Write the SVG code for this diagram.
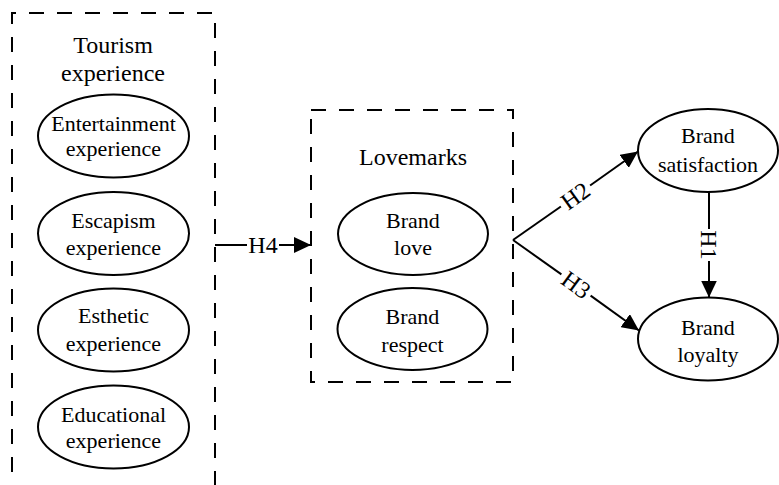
<svg xmlns="http://www.w3.org/2000/svg" width="779" height="485" viewBox="0 0 779 485">
  <defs>
    <marker id="arrow" markerUnits="userSpaceOnUse" markerWidth="17" markerHeight="16" refX="17" refY="8" orient="auto">
      <path d="M0,0 L17,8 L0,16 z" fill="#000"/>
    </marker>
    <style>
      .box { fill: none; stroke: #000; stroke-width: 2; stroke-dasharray: 15 13; }
      .node ellipse { fill: #fff; stroke: #000; stroke-width: 2; }
      text { font-family: "Liberation Serif", "Times New Roman", serif; fill: #000; text-anchor: middle; }
      .lbl { font-size: 22px; }
      .title { font-size: 24px; }
      .hyp { font-size: 24px; }
      .edge { fill: none; stroke: #000; stroke-width: 2; }
    </style>
  </defs>
  <rect width="779" height="485" fill="#fff"/>

  <!-- Tourism experience group (open at the bottom) -->
  <g id="tourism-experience">
    <path class="box" d="M12,500 L12,13 L215,13 L215,500"/>
    <text class="title" x="113" y="53">Tourism</text>
    <text class="title" x="113" y="81">experience</text>
  </g>
  <g id="entertainment" class="node">
    <ellipse cx="113.5" cy="136" rx="75.5" ry="41.5"/>
    <text class="lbl" x="113.5" y="131">Entertainment</text>
    <text class="lbl" x="113.5" y="156">experience</text>
  </g>
  <g id="escapism" class="node">
    <ellipse cx="113.5" cy="233.5" rx="75.5" ry="41.5"/>
    <text class="lbl" x="113.5" y="228">Escapism</text>
    <text class="lbl" x="113.5" y="255">experience</text>
  </g>
  <g id="esthetic" class="node">
    <ellipse cx="113.5" cy="330" rx="75.5" ry="41.5"/>
    <text class="lbl" x="113.5" y="323">Esthetic</text>
    <text class="lbl" x="113.5" y="351">experience</text>
  </g>
  <g id="educational" class="node">
    <ellipse cx="113.5" cy="427" rx="75.5" ry="41.5"/>
    <text class="lbl" x="113.5" y="422">Educational</text>
    <text class="lbl" x="113.5" y="448">experience</text>
  </g>

  <!-- Lovemarks group -->
  <g id="lovemarks">
    <rect class="box" x="311" y="110" width="202" height="272"/>
    <text class="title" x="413" y="165">Lovemarks</text>
  </g>
  <g id="brand-love" class="node">
    <ellipse cx="413" cy="234" rx="75" ry="41"/>
    <text class="lbl" x="413" y="228">Brand</text>
    <text class="lbl" x="413" y="255">love</text>
  </g>
  <g id="brand-respect" class="node">
    <ellipse cx="412.5" cy="329" rx="75" ry="41"/>
    <text class="lbl" x="412.5" y="324">Brand</text>
    <text class="lbl" x="412.5" y="352">respect</text>
  </g>

  <!-- Outcomes -->
  <g id="brand-satisfaction" class="node">
    <ellipse cx="708" cy="150.5" rx="70" ry="41.5"/>
    <text class="lbl" x="708" y="143">Brand</text>
    <text class="lbl" x="708" y="172">satisfaction</text>
  </g>
  <g id="brand-loyalty" class="node">
    <ellipse cx="708" cy="339" rx="70" ry="41.5"/>
    <text class="lbl" x="708" y="335">Brand</text>
    <text class="lbl" x="708" y="362">loyalty</text>
  </g>

  <!-- Hypothesis paths -->
  <g id="connectors">
    <!-- H4 -->
    <line class="edge" x1="215" y1="245" x2="247" y2="245"/>
    <line class="edge" x1="279" y1="245" x2="311" y2="245" marker-end="url(#arrow)"/>
    <text class="hyp" x="263" y="253">H4</text>

    <!-- H2 -->
    <line class="edge" x1="513" y1="240" x2="560.9" y2="206.5"/>
    <line class="edge" x1="590.1" y1="185.5" x2="638" y2="151.5" marker-end="url(#arrow)"/>
    <text class="hyp" transform="translate(575.5,196) rotate(-35.6)" x="0" y="8">H2</text>

    <!-- H3 -->
    <line class="edge" x1="513" y1="240" x2="561.4" y2="274.4"/>
    <line class="edge" x1="590.6" y1="295.6" x2="639" y2="330.5" marker-end="url(#arrow)"/>
    <text class="hyp" transform="translate(576,285) rotate(36)" x="0" y="8">H3</text>

    <!-- H1 -->
    <line class="edge" x1="709" y1="192" x2="709" y2="229"/>
    <line class="edge" x1="709" y1="261" x2="709" y2="297.5" marker-end="url(#arrow)"/>
    <text class="hyp" transform="translate(709,245) rotate(90)" x="0" y="8">H1</text>
  </g>
</svg>
